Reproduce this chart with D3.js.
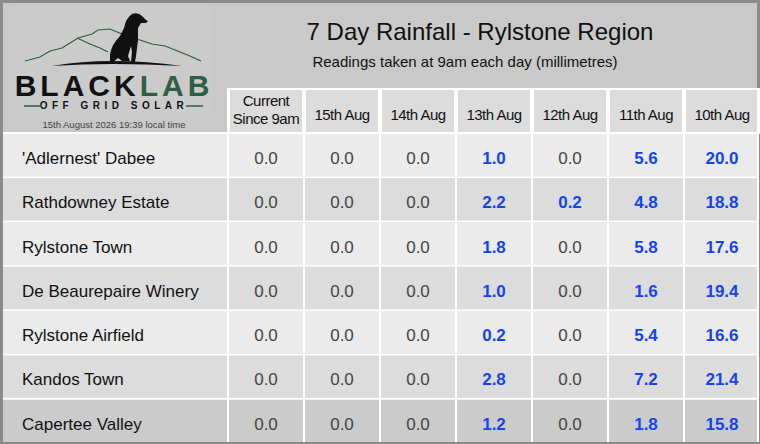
<!DOCTYPE html><html><head><meta charset="utf-8">
<script src="https://cdn.jsdelivr.net/npm/d3@7"></script>
<style>body{margin:0;background:#fff}svg{display:block;font-family:"Liberation Sans",Arial,sans-serif}</style></head><body>
<svg id="c" width="760" height="444"></svg>
<script>
const columns=["Current|Since 9am","15th Aug","14th Aug","13th Aug","12th Aug","11th Aug","10th Aug"];
const sites=["'Adlernest' Dabee","Rathdowney Estate","Rylstone Town","De Beaurepaire Winery","Rylstone Airfield","Kandos Town","Capertee Valley"];
const current=[0,0,0,0,0,0,0];
const aug15=[0,0,0,0,0,0,0];
const aug14=[0,0,0,0,0,0,0];
const aug13=[1.0,2.2,1.8,1.0,0.2,2.8,1.2];
const aug12=[0,0.2,0,0,0,0,0];
const aug11=[5.6,4.8,5.8,1.6,5.4,7.2,1.8];
const aug10=[20.0,18.8,17.6,19.4,16.6,21.4,15.8];
const series=[current,aug15,aug14,aug13,aug12,aug11,aug10];

const svg=d3.select("#c");
svg.append("rect").attr("x",1.5).attr("y",1.5).attr("width",757).attr("height",441).attr("fill","#c9c9c9").attr("stroke","#8a8a8a").attr("stroke-width",3);
const x=d3.scaleBand().domain(d3.range(7)).range([228,760]);
const y=d3.scaleBand().domain(d3.range(7)).range([134,444]);
svg.append("text").attr("x",480).attr("y",40).attr("text-anchor","middle").attr("font-size",24).attr("fill","#111").text("7 Day Rainfall - Rylstone Region");
svg.append("text").attr("x",465).attr("y",67).attr("text-anchor","middle").attr("font-size",15).attr("fill","#111").text("Readings taken at 9am each day (millimetres)");
columns.forEach((c,i)=>{
  svg.append("rect").attr("x",x(i)+1).attr("y",89).attr("width",x.bandwidth()-2).attr("height",44).attr("fill","#dcdcdc").attr("stroke","#fff").attr("stroke-width",2);
  const parts=c.split("|");
  parts.forEach((p,j)=>svg.append("text").attr("x",x(i)+x.bandwidth()/2).attr("y",parts.length>1?106+j*18:120).attr("text-anchor","middle").attr("font-size",15).attr("fill","#111").attr("letter-spacing",-0.5).text(p));
});
sites.forEach((s,r)=>{
  const fill=r==6?"#cbcbcb":(r%2==0?"#ebebeb":"#dcdcdc");
  svg.append("rect").attr("x",3).attr("y",y(r)).attr("width",754).attr("height",y.bandwidth()-2).attr("fill",fill);
  svg.append("text").attr("x",22).attr("y",y(r)+30).attr("font-size",17).attr("fill","#111").text(s);
  series.forEach((ser,i)=>{
    const v=ser[r];
    svg.append("text").attr("x",x(i)+x.bandwidth()/2).attr("y",y(r)+30).attr("text-anchor","middle").attr("font-size",17)
      .attr("font-weight",v>0?"bold":"normal").attr("fill",v>0?"#1444f0":"#444").text(v.toFixed(1));
  });
});
d3.range(8).forEach(i=>{const xx=i<7?x(i):758;svg.append("line").attr("x1",xx).attr("x2",xx).attr("y1",88).attr("y2",442).attr("stroke","#fff").attr("stroke-width",2);});
d3.range(1,7).forEach(r=>svg.append("line").attr("x1",3).attr("x2",757).attr("y1",y(r)-1).attr("y2",y(r)-1).attr("stroke","#fff").attr("stroke-width",2));
svg.append("line").attr("x1",3).attr("x2",757).attr("y1",133).attr("y2",133).attr("stroke","#fff").attr("stroke-width",2);
const g=svg.append("g");
g.append("rect").attr("x",16).attr("y",6).attr("width",196).attr("height",108).attr("fill","#cbcbcb");
g.append("path").attr("d","M25,61 L40,57 L50,51 L62,48 L78,38 L92,34 L98,30 L110,29 L122,34 L128,38 L140,40 L152,44 L165,46 L175,50 L190,56 L201,61").attr("fill","none").attr("stroke","#2e5e3e").attr("stroke-width",1.2);
g.append("path").attr("d","M77,38 L90,44 L100,48 L108,52").attr("fill","none").attr("stroke","#2e5e3e").attr("stroke-width",1.2);
g.append("path").attr("d","M52,66 Q110,56 182,66 Q110,62 52,66Z").attr("fill","#111");
g.append("path").attr("d","M110,62 L110,54 Q112,44 120,36 L124,28 Q126,18 132,14 Q138,12 142,16 L146,20 L148,21 L146,23 L141,23 L138,28 L138,40 L136,56 L135,62 L131,62 L132,52 L131,46 L128,56 L130,61 L122,61 L118,58 L112,63Z").attr("fill","#111");
g.append("text").attr("x",114).attr("y",96).attr("text-anchor","middle").attr("font-size",30).attr("font-weight","bold").attr("letter-spacing",4)
 .call(t=>{t.append("tspan").attr("fill","#111").text("BLACK");t.append("tspan").attr("fill","#2e5e46").text("LAB");});
g.append("text").attr("x",114).attr("y",109).attr("text-anchor","middle").attr("font-size",10).attr("font-weight","bold").attr("letter-spacing",4.5).attr("fill","#111").text("OFF GRID SOLAR");
g.append("line").attr("x1",24).attr("x2",42).attr("y1",106).attr("y2",106).attr("stroke","#2e5e46").attr("stroke-width",1.5);
g.append("line").attr("x1",186).attr("x2",203).attr("y1",106).attr("y2",106).attr("stroke","#2e5e46").attr("stroke-width",1.5);
svg.append("text").attr("x",114).attr("y",128).attr("text-anchor","middle").attr("font-size",9.5).attr("fill","#444").text("15th August 2026  19:39 local time");
</script></body></html>
